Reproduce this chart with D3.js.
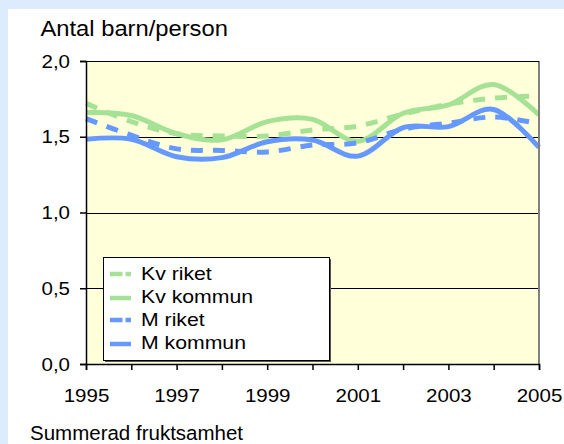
<!DOCTYPE html>
<html lang="sv">
<head>
<meta charset="UTF-8">
<title>Summerad fruktsamhet</title>
<script src="https://d3js.org/d3.v7.min.js"></script>
<style>
  body { margin: 0; background: #dcecfc; }
  svg text { font-family: "Liberation Sans", Arial, sans-serif; fill: #000; }
</style>
</head>
<body>
<div id="chart"></div>
<script>
// data
const years = [1995, 1996, 1997, 1998, 1999, 2000, 2001, 2002, 2003, 2004, 2005];
const kvRiket   = [1.72, 1.60, 1.52, 1.505, 1.505, 1.545, 1.57, 1.65, 1.715, 1.755, 1.77];
const kvKommun  = [1.66, 1.64, 1.52, 1.48, 1.60, 1.615, 1.47, 1.655, 1.71, 1.845, 1.645];
const mRiket    = [1.62, 1.51, 1.42, 1.41, 1.40, 1.445, 1.46, 1.55, 1.59, 1.63, 1.585];
const mKommun   = [1.483, 1.483, 1.368, 1.362, 1.467, 1.478, 1.372, 1.56, 1.567, 1.68, 1.43];
const seriesNames = ["Kv riket", "Kv kommun", "M riket", "M kommun"];
const yTicks = [0, 0.5, 1, 1.5, 2];
const xLabelYears = [1995, 1997, 1999, 2001, 2003, 2005];

const W = 564, H = 444;
const green = "#a6e296", blue = "#6699ff";

const svg = d3.select("#chart").append("svg")
  .attr("width", W).attr("height", H);

// the picture is a bit wider than tall, so text gets a horizontal stretch
function stretchText(sel, s) {
  sel.attr("transform", `scale(${s},1)`);
}

// white panel on the blue page
svg.append("rect").attr("x", 8).attr("y", 9).attr("width", W - 8).attr("height", H - 9)
  .attr("fill", "#fff");

const x = d3.scaleLinear().domain([1995, 2005]).range([86, 539]);
const y = d3.scaleLinear().domain([0, 2]).range([364, 61]);

// plot area
svg.append("rect")
  .attr("x", x(1995)).attr("y", y(2))
  .attr("width", x(2005) - x(1995)).attr("height", y(0) - y(2))
  .attr("fill", "#ffffd9");

// gridlines
svg.append("g").selectAll("line").data(yTicks.filter(d => d > 0))
  .join("line")
  .attr("x1", x(1995)).attr("x2", x(2005))
  .attr("y1", d => Math.round(y(d)) + 0.5).attr("y2", d => Math.round(y(d)) + 0.5)
  .attr("stroke", "#000").attr("stroke-width", 1);

// series
const series = [
  { name: seriesNames[0], values: kvRiket, color: green, dash: "12,10" },
  { name: seriesNames[1], values: kvKommun, color: green, dash: null },
  { name: seriesNames[2], values: mRiket, color: blue, dash: "12,10" },
  { name: seriesNames[3], values: mKommun, color: blue, dash: null }
];

const line = d3.line()
  .x((d, i) => x(years[i]))
  .y(d => y(d))
  .curve(d3.curveCatmullRom.alpha(0));

const drawOrder = [0, 1, 2, 3];
drawOrder.forEach(k => {
  const s = series[k];
  svg.append("path")
    .attr("d", line(s.values))
    .attr("fill", "none")
    .attr("stroke", s.color)
    .attr("stroke-width", 5)
    .attr("stroke-dasharray", s.dash);
});

// right border of plot area
svg.append("line")
  .attr("x1", x(2005)).attr("x2", x(2005))
  .attr("y1", y(2)).attr("y2", y(0))
  .attr("stroke", "#808080").attr("stroke-width", 2);

// axes
const xAxis = svg.append("g")
  .attr("transform", `translate(0,${y(0)})`)
  .call(d3.axisBottom(x).tickValues(years).tickSize(6).tickPadding(18)
    .tickFormat(d => xLabelYears.includes(d) ? String(d) : ""));
xAxis.select(".domain").attr("stroke", "#000").attr("stroke-width", 1.5);
xAxis.selectAll(".tick line").attr("stroke-width", 1.5);
xAxis.selectAll("text").style("font-size", "19px").attr("dy", "0");
stretchText(xAxis.selectAll("text"), 1.08);
xAxis.selectAll("text").attr("y", 38);

const yAxis = svg.append("g")
  .attr("transform", `translate(${x(1995)},0)`)
  .call(d3.axisLeft(y).tickValues(yTicks).tickSize(6).tickPadding(8.8)
    .tickFormat(d => d3.format(".1f")(d).replace(".", ",")));
yAxis.select(".domain").attr("stroke", "#000").attr("stroke-width", 1.5);
yAxis.selectAll(".tick line").attr("stroke-width", 1.5);
yAxis.selectAll("text").style("font-size", "19px");
stretchText(yAxis.selectAll("text"), 1.08);

// top border
svg.append("line")
  .attr("x1", x(1995)).attr("x2", x(2005))
  .attr("y1", y(2) + 0.5).attr("y2", y(2) + 0.5)
  .attr("stroke", "#000");

// titles
svg.append("text").attr("x", 40.5 / 1.08).attr("y", 36.5)
  .style("font-size", "22px").text("Antal barn/person")
  .call(stretchText, 1.08);
svg.append("text").attr("x", 30).attr("y", 440)
  .style("font-size", "20.5px").text("Summerad fruktsamhet");

// legend
const lg = svg.append("g").attr("transform", "translate(103,257)");
lg.append("rect").attr("x", 2).attr("y", 2).attr("width", 226).attr("height", 103)
  .attr("fill", "#555");
lg.append("rect").attr("x", 0.5).attr("y", 0.5).attr("width", 226).attr("height", 103)
  .attr("fill", "#fff").attr("stroke", "#000");
const rowY = [17, 41, 63, 87];
const textY = [23.5, 46, 69, 92];
series.forEach((s, i) => {
  lg.append("line").attr("x1", 7).attr("x2", 28).attr("y1", rowY[i]).attr("y2", rowY[i])
    .attr("stroke", s.color).attr("stroke-width", 4.5)
    .attr("stroke-dasharray", s.dash ? "12.5,3,5.5,40" : null);
  lg.append("text").attr("x", 38 / 1.18).attr("y", textY[i])
    .style("font-size", "18px").text(s.name)
    .call(stretchText, 1.18);
});
</script>
</body>
</html>
